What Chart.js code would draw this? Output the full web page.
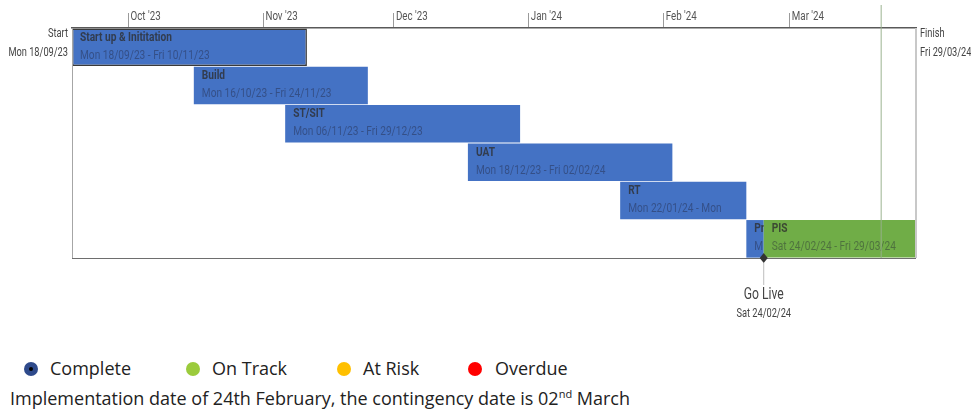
<!DOCTYPE html>
<html>
<head>
<meta charset="utf-8">
<script src="https://cdn.jsdelivr.net/npm/chart.js@4.4.1/dist/chart.umd.min.js"></script>
<style>
  body { margin: 0; background: #fff; }
  #wrap { position: relative; width: 971px; height: 412px; overflow: hidden; }
  #gantt { position: absolute; left: 0; top: 0; }
  .key { position: absolute; top: 356px; font-family: "Open Sans", Lato, sans-serif; font-size: 18px; color: #222; white-space: nowrap; }
  .dot { position: absolute; top: 362px; width: 14px; height: 14px; border-radius: 50%; }
  .dot.done::after { content: ""; position: absolute; left: 5px; top: 5px; width: 4px; height: 4px; border-radius: 50%; background: #000; }
  #note { position: absolute; left: 10px; top: 386px; font-family: "Open Sans", Lato, sans-serif; font-size: 18px; color: #222; white-space: nowrap; }
  #note sup { font-size: 11px; }
</style>
</head>
<body>
<div id="wrap">
  <canvas id="gantt" width="971" height="340"></canvas>
  <span class="dot done" style="left:24px;background:#2e4a8b"></span><span class="key" style="left:50px">Complete</span>
  <span class="dot" style="left:186px;background:#9bcb3c"></span><span class="key" style="left:212px">On Track</span>
  <span class="dot" style="left:337px;background:#ffc000"></span><span class="key" style="left:363px">At Risk</span>
  <span class="dot" style="left:468px;background:#ff0000"></span><span class="key" style="left:495px">Overdue</span>
  <div id="note">Implementation date of 24th February, the contingency date is 02<sup>nd</sup> March</div>
</div>
<script>
// timeline data
const projectStart = "2023-09-18";
const projectFinish = "2024-03-29";
const startLabel = ["Start", "Mon 18/09/23"];
const finishLabel = ["Finish", "Fri 29/03/24"];

const taskNames = ["Start up & Inititation", "Build", "ST/SIT", "UAT", "RT", "Pr", "PIS"];
const taskStarts = ["2023-09-18", "2023-10-16", "2023-11-06", "2023-12-18", "2024-01-22", "2024-02-20", "2024-02-24"];
const taskEnds = ["2023-11-10", "2023-11-24", "2023-12-29", "2024-02-02", "2024-02-19", "2024-02-23", "2024-03-29"];
const taskRows = ["1", "2", "3", "4", "5", "6", "6"];
const taskDates = [
  "Mon 18/09/23 - Fri 10/11/23",
  "Mon 16/10/23 - Fri 24/11/23",
  "Mon 06/11/23 - Fri 29/12/23",
  "Mon 18/12/23 - Fri 02/02/24",
  "Mon 22/01/24 - Mon",
  "M",
  "Sat 24/02/24 - Fri 29/03/24",
];
const taskStatus = ["blue", "blue", "blue", "blue", "blue", "blue", "green"];
const rowLabels = ["1", "2", "3", "4", "5", "6"];

const monthDates = ["2023-10-01", "2023-11-01", "2023-12-01", "2024-01-01", "2024-02-01", "2024-03-01"];
const monthLabels = ["Oct '23", "Nov '23", "Dec '23", "Jan '24", "Feb '24", "Mar '24"];

const goLiveDate = "2024-02-24";
const goLiveLabel = ["Go Live", "Sat 24/02/24"];
const todayDate = "2024-03-22";

const statusColors = { blue: "#4472c4", green: "#70ad47" };
const narrow = "Roboto, sans-serif";

// days since project start
const DAY = 86400000;
const toDay = (s) => {
  const [y, m, d] = s.split("-").map(Number);
  return (Date.UTC(y, m - 1, d) - Date.UTC(2023, 8, 18)) / DAY;
};

const bars = taskNames.map((n, i) => ({
  y: taskRows[i],
  x: [toDay(taskStarts[i]), toDay(taskEnds[i]) + 1],
}));

// draw condensed text (Project timeline uses a narrow face)
function cText(ctx, txt, x, y, align, sq) {
  ctx.save();
  ctx.translate(x, y);
  ctx.scale(sq, 1);
  ctx.textAlign = align;
  ctx.textBaseline = "middle";
  ctx.fillText(txt, 0, 0);
  ctx.restore();
}

const ganttDecor = {
  id: "ganttDecor",
  afterDatasetsDraw(chart) {
    const { ctx, chartArea: a, scales: { x } } = chart;

    // frame
    ctx.save();
    ctx.strokeStyle = "#a6a6a6";
    ctx.lineWidth = 1;
    ctx.beginPath();
    ctx.moveTo(a.left + 0.5, a.top);
    ctx.lineTo(a.left + 0.5, a.bottom);
    ctx.stroke();
    ctx.strokeStyle = "#c8c8c8";
    ctx.lineWidth = 2;
    ctx.beginPath();
    ctx.moveTo(a.right, a.top);
    ctx.lineTo(a.right, a.bottom);
    ctx.stroke();
    ctx.strokeStyle = "#6e6e6e";
    ctx.lineWidth = 1;
    ctx.beginPath();
    ctx.moveTo(a.left, a.bottom + 0.5);
    ctx.lineTo(a.right, a.bottom + 0.5);
    ctx.stroke();
    ctx.restore();

    // month labels beside the axis tick marks
    ctx.save();
    ctx.fillStyle = "#555";
    ctx.font = "12.5px " + narrow;
    x.ticks.forEach((t, i) => {
      cText(ctx, monthLabels[i], x.getPixelForTick(i) + 2, a.top - 11, "left", 0.78);
    });
    ctx.restore();

    // bar texts
    const meta = chart.getDatasetMeta(0);
    meta.data.forEach((bar, i) => {
      const left = Math.min(bar.base, bar.x);
      const right = Math.max(bar.base, bar.x);
      const top = bar.y - bar.height / 2;
      ctx.save();
      ctx.beginPath();
      ctx.rect(left, top, right - left, bar.height);
      ctx.clip();
      ctx.fillStyle = "rgba(45,45,45,0.78)";
      ctx.font = "bold 13px " + narrow;
      cText(ctx, taskNames[i], left + 8, top + 9, "left", 0.78);
      ctx.fillStyle = "rgba(30,30,50,0.42)";
      ctx.font = "13px " + narrow;
      cText(ctx, taskDates[i], left + 8, top + 27, "left", 0.78);
      ctx.restore();
    });

    // today line
    const tx = x.getPixelForValue(toDay(todayDate));
    ctx.save();
    ctx.strokeStyle = "rgba(150,175,140,0.8)";
    ctx.lineWidth = 1.2;
    ctx.beginPath();
    ctx.moveTo(tx, 5);
    ctx.lineTo(tx, a.bottom);
    ctx.stroke();
    ctx.restore();

    // start / finish labels
    ctx.save();
    ctx.fillStyle = "#444";
    ctx.font = "12.5px " + narrow;
    cText(ctx, startLabel[0], a.left - 4, a.top + 6, "right", 0.74);
    cText(ctx, startLabel[1], a.left - 4, a.top + 25, "right", 0.74);
    cText(ctx, finishLabel[0], a.right + 4, a.top + 6, "left", 0.74);
    cText(ctx, finishLabel[1], a.right + 4, a.top + 25, "left", 0.74);
    ctx.restore();

    // go live milestone
    const gx = x.getPixelForValue(toDay(goLiveDate));
    const gy = a.bottom;
    ctx.save();
    ctx.strokeStyle = "#bdbdbd";
    ctx.lineWidth = 1;
    ctx.beginPath();
    ctx.moveTo(gx, gy + 5);
    ctx.lineTo(gx, gy + 27);
    ctx.stroke();
    ctx.fillStyle = "#333";
    ctx.beginPath();
    ctx.moveTo(gx, gy - 5);
    ctx.lineTo(gx + 4, gy);
    ctx.lineTo(gx, gy + 5);
    ctx.lineTo(gx - 4, gy);
    ctx.closePath();
    ctx.fill();
    ctx.fillStyle = "#444";
    ctx.font = "16px " + narrow;
    cText(ctx, goLiveLabel[0], gx, gy + 37, "center", 0.76);
    ctx.font = "12.5px " + narrow;
    cText(ctx, goLiveLabel[1], gx, gy + 56, "center", 0.74);
    ctx.restore();
  },
};

new Chart(document.getElementById("gantt"), {
  type: "bar",
  data: {
    labels: rowLabels,
    datasets: [
      {
        data: bars,
        backgroundColor: taskStatus.map((s) => statusColors[s]),
        borderColor: taskNames.map((n, i) => (i === 0 ? "#3a3a3a" : "rgba(0,0,0,0)")),
        borderWidth: taskNames.map((n, i) => (i === 0 ? 1.5 : 0)),
        borderSkipped: false,
        barPercentage: 0.98,
        categoryPercentage: 1,
      },
    ],
  },
  options: {
    indexAxis: "y",
    responsive: false,
    animation: false,
    layout: { padding: { left: 72, right: 55, top: 0, bottom: 82 } },
    scales: {
      x: {
        type: "linear",
        position: "top",
        min: 0,
        max: toDay(projectFinish) + 1,
        afterBuildTicks: (scale) => {
          scale.ticks = monthDates.map((d) => ({ value: toDay(d) }));
        },
        afterFit: (scale) => {
          scale.height = 28;
        },
        ticks: { display: false, autoSkip: false },
        grid: {
          drawOnChartArea: false,
          drawTicks: true,
          tickLength: 15,
          color: "#9a9a9a",
        },
        border: { display: true, color: "#595959", width: 1.5 },
      },
      y: {
        display: false,
        offset: true,
      },
    },
    plugins: {
      legend: { display: false },
      tooltip: { enabled: false },
    },
  },
  plugins: [ganttDecor],
});
</script>
</body>
</html>
